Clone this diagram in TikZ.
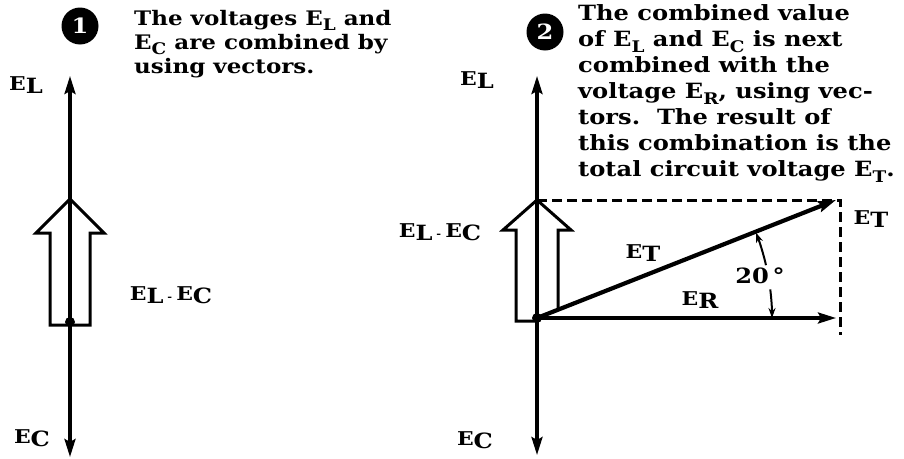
\documentclass[tikz,border=0pt]{standalone}
\usepackage{fontspec}
\setmainfont{DejaVu Serif}[FakeStretch=1.15]
\usetikzlibrary{arrows.meta, calc}
\newcommand{\Esub}[1]{E\raisebox{-0.28em}{\fontsize{16}{16}\selectfont #1}}
\newcommand{\Elab}[1]{{\fontsize{19}{19}\selectfont E}\raisebox{-0.3em}{\fontsize{21}{21}\selectfont #1}}
\tikzset{
    axisvec/.style={
        -{Stealth[length=18pt, width=11pt, inset=3pt]}, line width=3.2pt
    },
    hollow/.style={
        line width=3pt, line join=miter
    },
    guide/.style={
        dash pattern=on 10pt off 5pt, line width=3pt
    },
    stepnum/.style={
        circle, fill=black, text=white, minimum size=37pt, inner sep=0pt,
        font=\fontsize{21}{21}\selectfont\bfseries
    },
    caption/.style={
        align=left, inner sep=0pt, font=\fontsize{21}{26}\selectfont\bfseries
    },
    vlabel/.style={
        inner sep=0pt, font=\bfseries
    },
    angarrow/.style={
        -{Stealth[length=10pt, width=7pt]}, line width=2pt
    }
}
\begin{document}
\begin{tikzpicture}[x=1pt, y=-1pt]
    \useasboundingbox (0,0) rectangle (904,458);

    % panel 1
    \coordinate (o1)  at (70,322);
    \coordinate (elA) at (70,76);
    \coordinate (ecA) at (70,457);

    \draw[hollow] (70,199) -- (104,233) -- (90,233) -- (90,325) -- (50,325)
        -- (50,233) -- (36,233) -- cycle;
    \draw[axisvec] (o1) -- (elA);
    \draw[axisvec] (o1) -- (ecA);
    \fill (o1) circle[radius=5pt];

    \node[stepnum] (n1) at (80,26) {1};
    \node[caption, anchor=north west, font=\fontsize{20}{24}\selectfont\bfseries] (t1) at (134,10)
        {The voltages \Esub{L} and\\ \Esub{C} are combined by\\ using vectors.};

    \node[vlabel] (lbEL1)  at (26,85)  {\Elab{L}};
    \node[vlabel] (lbEC1)  at (32,438) {\Elab{C}};
    \node[vlabel] (lbELC1) at (171,295) {\Elab{L}\ -\ \Elab{C}};

    % panel 2
    \coordinate (o2)  at (537,318);
    \coordinate (elB) at (537,76);
    \coordinate (ecB) at (537,455);
    \coordinate (erB) at (836,318);
    \coordinate (etB) at (836,200);
    \coordinate (topL) at (537,200);
    \coordinate (topR) at (840,200);
    \coordinate (botR) at (840,335);
    \coordinate (sR1) at (558,230);
    \coordinate (sR2) at (558,330);

    \draw[hollow] (537,321) -- (516,321) -- (516,230) -- (503,230) -- (topL)
        -- (571,230) -- (sR1) -- (intersection of sR1--sR2 and o2--etB);
    \draw[guide] (topL) -- (topR) -- (botR);
    \draw[axisvec] (o2) -- (elB);
    \draw[axisvec] (o2) -- (ecB);
    \draw[axisvec] (o2) -- (erB);
    \draw[axisvec, line width=4.2pt] (o2) -- (etB);
    \fill (o2) circle[radius=5pt];

    \draw[angarrow] ($(o2)+(13:235pt)$) arc[start angle=13, end angle=21.3, radius=235pt];
    \draw[angarrow] ($(o2)+(7:235pt)$) arc[start angle=7, end angle=0, radius=235pt];

    \node[stepnum] (n2) at (545,32) {2};
    \node[caption, anchor=north west] (t2) at (578,4)
        {The combined value\\ of \Esub{L} and \Esub{C} is next\\ combined with the\\
         voltage \Esub{R}, using vec-\\ tors.\ \ The result of\\
         this combination is the\\ total circuit voltage \Esub{T}.};

    \node[vlabel] (lbEL2)  at (477,80)  {\Elab{L}};
    \node[vlabel] (lbEC2)  at (475,440) {\Elab{C}};
    \node[vlabel] (lbELC2) at (440,232) {\Elab{L}\ -\ \Elab{C}};
    \node[vlabel] (lbET)   at (643,253) {\Elab{T}};
    \node[vlabel] (lbER)   at (700,300) {\Elab{R}};
    \node[vlabel] (lbAng)  at (760,276) {\fontsize{21}{21}\selectfont 20\,°};
    \node[vlabel] (lbET2)  at (871,219) {\Elab{T}};
\end{tikzpicture}
\end{document}
